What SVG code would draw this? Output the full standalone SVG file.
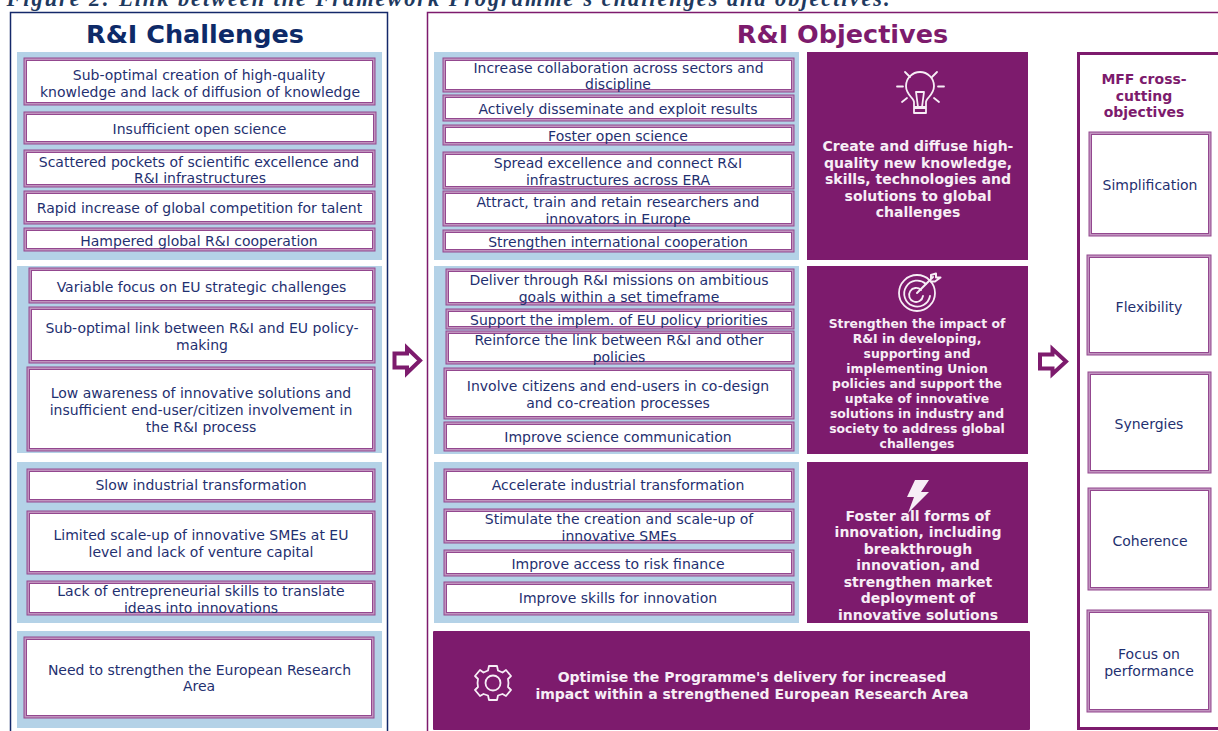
<svg xmlns="http://www.w3.org/2000/svg" width="1218" height="731" viewBox="0 0 1218 731">
<style>
text{font-family:"DejaVu Sans",Verdana,sans-serif;text-anchor:middle}
.t{font-size:14px;fill:#1f3070}
.w{font-size:14px;font-weight:bold;fill:#f7eef6}
.s{font-size:12.4px;font-weight:bold;fill:#f7eef6}
.h{font-size:25.500px;font-weight:bold}
.o{fill:#c194bf;stroke:#93488f;stroke-width:1}
.i{fill:#fff;stroke:#93488f;stroke-width:1}
.p{fill:#b4d2e7}
.m{fill:#7d1b6d}
.ic{fill:none;stroke:#f7eef6;stroke-width:1.8;stroke-linecap:round;stroke-linejoin:round}
.a{fill:#fff;stroke:#7d1b6d;stroke-width:4}
</style>
<rect width="1218" height="731" fill="#fff"/>
<text id="title" x="448" y="5.500" style="font-family:'Liberation Serif',serif;font-size:22.400px;font-weight:bold;font-style:italic;fill:#1f3a5f" textLength="883">Figure 2: Link between the Framework Programme's challenges and objectives.</text>

<g id="challenges-frame">
<path d="M10.500,731V12.500H387.500V731" fill="none" stroke="#14296a" stroke-width="1.500"/>
<text class="h" x="195" y="43" fill="#0e2a68">R&amp;I Challenges</text>
<rect class="p" x="17" y="52" width="365" height="208"/>
<rect class="p" x="17" y="266" width="365" height="187"/>
<rect class="p" x="17" y="462" width="365" height="161"/>
<rect class="p" x="17" y="631" width="365" height="97"/>
</g>
<g id="objectives-frame">
<path d="M427.500,731V12.500H1218" fill="none" stroke="#7d1b6d" stroke-width="1.500"/>
<text class="h" x="842.500" y="43" fill="#7d1b6d">R&amp;I Objectives</text>
<rect class="p" x="434" y="52" width="365" height="208"/>
<rect class="p" x="434" y="266" width="365" height="188"/>
<rect class="p" x="434" y="462" width="365" height="161"/>
</g>
<g id="mff-frame">
<path d="M1218,53.500H1078.500V728.500H1218" fill="none" stroke="#7d1b6d" stroke-width="3"/>
<text x="1144" y="84" style="font-size:14px;font-weight:bold" fill="#7d1b6d">MFF cross-</text>
<text x="1144" y="100.500" style="font-size:14px;font-weight:bold" fill="#7d1b6d">cutting</text>
<text x="1144" y="117" style="font-size:14px;font-weight:bold" fill="#7d1b6d">objectives</text>
</g>

<g id="c1"><rect class="o" x="24" y="58" width="351" height="47"/><rect class="i" x="26.500" y="60.500" width="346" height="42"/><text class="t" x="199" y="80">Sub-optimal creation of high-quality</text><text class="t" x="200" y="96.700">knowledge and lack of diffusion of knowledge</text></g>
<g id="c2"><rect class="o" x="24" y="112" width="352" height="32"/><rect class="i" x="26.500" y="114.500" width="347" height="27"/><text class="t" x="199.500" y="134">Insufficient open science</text></g>
<g id="c3"><rect class="o" x="24" y="150" width="351" height="37"/><rect class="i" x="26.500" y="152.500" width="346" height="32"/><text class="t" x="199" y="166.700">Scattered pockets of scientific excellence and</text><text class="t" x="200" y="183.300">R&amp;I infrastructures</text></g>
<g id="c4"><rect class="o" x="24" y="191" width="351" height="33"/><rect class="i" x="26.500" y="193.500" width="346" height="28"/><text class="t" x="199.500" y="213">Rapid increase of global competition for talent</text></g>
<g id="c5"><rect class="o" x="24" y="228" width="351" height="23"/><rect class="i" x="26.500" y="230.500" width="346" height="18"/><text class="t" x="199" y="246">Hampered global R&amp;I cooperation</text></g>
<g id="c6"><rect class="o" x="29" y="268" width="346" height="35"/><rect class="i" x="31.500" y="270.500" width="341" height="30"/><text class="t" x="201.500" y="292">Variable focus on EU strategic challenges</text></g>
<g id="c7"><rect class="o" x="29" y="307" width="346" height="56"/><rect class="i" x="31.500" y="309.500" width="341" height="51"/><text class="t" x="202" y="333">Sub-optimal link between R&amp;I and EU policy-</text><text class="t" x="202" y="349.500">making</text></g>
<g id="c8"><rect class="o" x="27" y="367" width="348" height="84"/><rect class="i" x="29.500" y="369.500" width="343" height="79"/><text class="t" x="201" y="398">Low awareness of innovative solutions and</text><text class="t" x="201" y="415">insufficient end-user/citizen involvement in</text><text class="t" x="201" y="431.500">the R&amp;I process</text></g>
<g id="c9"><rect class="o" x="27" y="469" width="348" height="33"/><rect class="i" x="29.500" y="471.500" width="343" height="28"/><text class="t" x="201" y="490">Slow industrial transformation</text></g>
<g id="c10"><rect class="o" x="27" y="511" width="348" height="63"/><rect class="i" x="29.500" y="513.500" width="343" height="58"/><text class="t" x="201" y="540">Limited scale-up of innovative SMEs at EU</text><text class="t" x="201" y="556.500">level and lack of venture capital</text></g>
<g id="c11"><rect class="o" x="27" y="581" width="348" height="34"/><rect class="i" x="29.500" y="583.500" width="343" height="29"/><text class="t" x="201" y="596">Lack of entrepreneurial skills to translate</text><text class="t" x="201" y="612.500">ideas into innovations</text></g>
<g id="c12"><rect class="o" x="24" y="637" width="350" height="81"/><rect class="i" x="26.500" y="639.500" width="345" height="76"/><text class="t" x="199.500" y="674.500">Need to strengthen the European Research</text><text class="t" x="199" y="691">Area</text></g>

<g id="o1"><rect class="o" x="443" y="58" width="351" height="34"/><rect class="i" x="445.500" y="60.500" width="346" height="29"/><text class="t" x="618.500" y="72.700">Increase collaboration across sectors and</text><text class="t" x="618" y="89.300">discipline</text></g>
<g id="o2"><rect class="o" x="443" y="95" width="351" height="26"/><rect class="i" x="445.500" y="97.500" width="346" height="21"/><text class="t" x="618" y="114.300">Actively disseminate and exploit results</text></g>
<g id="o3"><rect class="o" x="443" y="125" width="351" height="20"/><rect class="i" x="445.500" y="127.500" width="346" height="15"/><text class="t" x="618" y="141">Foster open science</text></g>
<g id="o4"><rect class="o" x="443" y="152" width="351" height="37"/><rect class="i" x="445.500" y="154.500" width="346" height="32"/><text class="t" x="618" y="168">Spread excellence and connect R&amp;I</text><text class="t" x="618" y="184.700">infrastructures across ERA</text></g>
<g id="o5"><rect class="o" x="443" y="191" width="351" height="35"/><rect class="i" x="445.500" y="193.500" width="346" height="30"/><text class="t" x="618" y="207">Attract, train and retain researchers and</text><text class="t" x="618" y="223.700">innovators in Europe</text></g>
<g id="o6"><rect class="o" x="443" y="230" width="351" height="22"/><rect class="i" x="445.500" y="232.500" width="346" height="17"/><text class="t" x="618" y="247.300">Strengthen international cooperation</text></g>
<g id="o7"><rect class="o" x="446" y="269" width="348" height="36"/><rect class="i" x="448.500" y="271.500" width="343" height="31"/><text class="t" x="619" y="285">Deliver through R&amp;I missions on ambitious</text><text class="t" x="619" y="301.700">goals within a set timeframe</text></g>
<g id="o8"><rect class="o" x="446" y="309" width="348" height="20"/><rect class="i" x="448.500" y="311.500" width="343" height="15"/><text class="t" x="619" y="324.700">Support the implem. of EU policy priorities</text></g>
<g id="o9"><rect class="o" x="446" y="331" width="348" height="33"/><rect class="i" x="448.500" y="333.500" width="343" height="28"/><text class="t" x="619" y="345">Reinforce the link between R&amp;I and other</text><text class="t" x="619" y="361.700">policies</text></g>
<g id="o10"><rect class="o" x="444" y="368" width="350" height="51"/><rect class="i" x="446.500" y="370.500" width="345" height="46"/><text class="t" x="618" y="391">Involve citizens and end-users in co-design</text><text class="t" x="618" y="407.700">and co-creation processes</text></g>
<g id="o11"><rect class="o" x="444" y="422" width="350" height="29"/><rect class="i" x="446.500" y="424.500" width="345" height="24"/><text class="t" x="618" y="441.700">Improve science communication</text></g>
<g id="o12"><rect class="o" x="444" y="469" width="350" height="33"/><rect class="i" x="446.500" y="471.500" width="345" height="28"/><text class="t" x="618" y="490">Accelerate industrial transformation</text></g>
<g id="o13"><rect class="o" x="444" y="509" width="350" height="34"/><rect class="i" x="446.500" y="511.500" width="345" height="29"/><text class="t" x="619" y="524">Stimulate the creation and scale-up of</text><text class="t" x="619" y="540.500">innovative SMEs</text></g>
<g id="o14"><rect class="o" x="444" y="550" width="350" height="26"/><rect class="i" x="446.500" y="552.500" width="345" height="21"/><text class="t" x="618" y="569">Improve access to risk finance</text></g>
<g id="o15"><rect class="o" x="444" y="582" width="350" height="33"/><rect class="i" x="446.500" y="584.500" width="345" height="28"/><text class="t" x="618" y="603">Improve skills for innovation</text></g>

<g id="goal1"><rect class="m" x="807" y="52" width="221" height="208"/>
<g class="ic"><path d="M914,107V102C914,98 906,95 906,86A14,14 0 1 1 934,86C934,95 926,98 926,102V107M914,107H926V113H914ZM916,92H924L922,107H918ZM914,108H926"/><path d="M897,86.500H903M938,86.500H944M905,72L910,77M932,77L937,72M902,102L907,98M934,98L939,102"/></g>
<text class="w" x="918" y="151">Create and diffuse high-</text><text class="w" x="918" y="167.500">quality new knowledge,</text><text class="w" x="918" y="184">skills, technologies and</text><text class="w" x="918" y="200.500">solutions to global</text><text class="w" x="918" y="217">challenges</text></g>

<g id="goal2"><rect class="m" x="807" y="266" width="221" height="188"/>
<g class="ic"><circle cx="917" cy="293" r="18"/><path d="M926,284A13,13 0 1 0 930,296M921,290A7,7 0 1 0 923,296"/><path d="M917,293L933,277M931,279V275L936,273.500V277.500H940.500L935,281.500H931" stroke-width="2"/></g>
<text class="s" x="917" y="327.700">Strengthen the impact of</text><text class="s" x="917" y="342.700">R&amp;I in developing,</text><text class="s" x="917" y="357.700">supporting and</text><text class="s" x="917" y="372.700">implementing Union</text><text class="s" x="917" y="387.700">policies and support the</text><text class="s" x="917" y="402.700">uptake of innovative</text><text class="s" x="917" y="417.700">solutions in industry and</text><text class="s" x="917" y="432.700">society to address global</text><text class="s" x="917" y="447.700">challenges</text></g>

<g id="goal3"><rect class="m" x="807" y="462" width="221" height="161"/>
<path d="M915,480H929L921,492H929L908,513L914,497H907Z" fill="#f7eef6"/>
<text class="w" x="918" y="520.700">Foster all forms of</text><text class="w" x="918" y="537.200">innovation, including</text><text class="w" x="918" y="553.700">breakthrough</text><text class="w" x="918" y="570.200">innovation, and</text><text class="w" x="918" y="586.700">strengthen market</text><text class="w" x="918" y="603.400">deployment of</text><text class="w" x="918" y="620.200">innovative solutions</text></g>

<g id="goal4"><rect class="m" x="433" y="631" width="597" height="99" rx="1"/>
<g class="ic"><circle cx="493" cy="683" r="7.500"/><path d="M489,666H497L498,670.500L502.500,672.500L506,670L511,676L508,679L508.500,683L508,687L511,690L506,696L502.500,694L498,695.500L497,700H489L488,695.500L483.500,694L480,696L475,690L478,687L477.500,683L478,679L475,676L480,670L483.500,672.500L488,670.500Z"/></g>
<text class="w" x="752" y="682">Optimise the Programme's delivery for increased</text><text class="w" x="752" y="698.500">impact within a strengthened European Research Area</text></g>

<g id="mff1"><rect class="o" x="1089" y="132" width="122" height="104"/><rect class="i" x="1091.500" y="134.500" width="117" height="99"/><text class="t" x="1150" y="189.500">Simplification</text></g>
<g id="mff2"><rect class="o" x="1087" y="255" width="124" height="100"/><rect class="i" x="1089.500" y="257.500" width="119" height="95"/><text class="t" x="1149" y="311.500">Flexibility</text></g>
<g id="mff3"><rect class="o" x="1088" y="372" width="123" height="101"/><rect class="i" x="1090.500" y="374.500" width="118" height="96"/><text class="t" x="1149" y="428.500">Synergies</text></g>
<g id="mff4"><rect class="o" x="1088" y="488" width="123" height="102"/><rect class="i" x="1090.500" y="490.500" width="118" height="97"/><text class="t" x="1150" y="546">Coherence</text></g>
<g id="mff5"><rect class="o" x="1087" y="610" width="124" height="102"/><rect class="i" x="1089.500" y="612.500" width="119" height="97"/><text class="t" x="1149" y="659">Focus on</text><text class="t" x="1149" y="675.500">performance</text></g>

<g id="connectors">
<path class="a" d="M394.500,353.500H407V348L420,360.500L407,373V367.500H394.500Z"/>
<path class="a" d="M1040,354.500H1052.500V349L1066,361.500L1052.500,374V368.500H1040Z"/>
</g>
</svg>
